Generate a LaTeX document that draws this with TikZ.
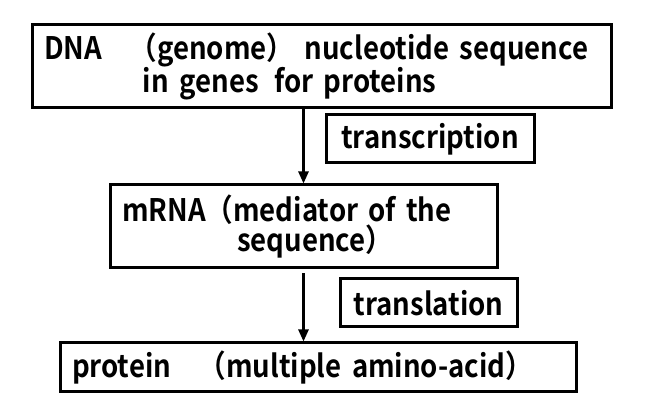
\documentclass[tikz,border=0pt]{standalone}
\usepackage{fontspec}
\setmainfont{Noto Sans CJK JP}[BoldFont={Noto Sans CJK JP Bold},FakeStretch=0.89]
\usepackage{tikz}
\usetikzlibrary{arrows.meta}

\begin{document}
\begin{tikzpicture}[x=1pt,y=1pt,
  box/.style={shape=rectangle,draw=black,line width=3pt,inner xsep=12pt,inner ysep=0pt,align=left,
    font=\bfseries\fontsize{31}{30}\selectfont}]
\useasboundingbox (0,0) rectangle (646,412);
\node[box,text width=555pt,minimum height=83pt] (DNA) at (321.5,345.5)
  {DNA　（genome） nucleotide sequence\\\hspace*{99pt}in genes\, for proteins};
\node[box,text width=363pt,minimum height=83pt] (MRNA) at (303.5,185.5)
  {mRNA（mediator of the\\\hspace*{115pt}sequence）};
\node[box,text width=492pt,minimum height=49pt] (PROT) at (318,44.5)
  {protein　（multiple amino-acid）};
\node[box,minimum width=208pt,minimum height=48pt] (TR) at (430,273) {transcription};
\node[box,minimum width=177pt,minimum height=48pt] (TL) at (428.5,109) {translation};
\path [-{Triangle[length=12pt,width=10pt]},line width=2.5pt] (DNA.south -| MRNA.north) edge (MRNA.north);
\path [-{Triangle[length=12pt,width=10pt]},line width=2.5pt,shorten <=4pt] (MRNA.south) edge (MRNA.south |- PROT.north);
\end{tikzpicture}
\end{document}
